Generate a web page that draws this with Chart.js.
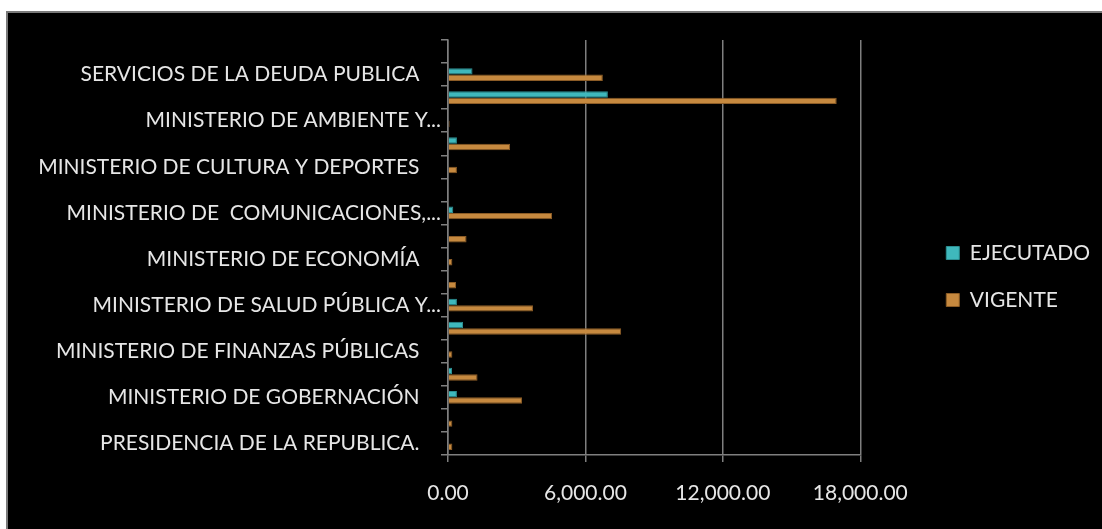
<!DOCTYPE html>
<html>
<head>
<meta charset="utf-8">
<script src="https://cdn.jsdelivr.net/npm/chart.js@4.4.1/dist/chart.umd.min.js"></script>
<style>
    html, body { margin: 0; padding: 0; background: #fff; overflow: hidden; }
    #frame { position: absolute; left: 6px; top: 11px; width: 1100px; height: 520px; background: #000; border: 2px solid #7a7a7a; overflow: hidden; }
    #wrap { position: absolute; left: 0; top: 0; width: 1094px; height: 516px; }
</style>
</head>
<body>
<div id="frame"><div id="wrap"><canvas id="budgetChart"></canvas></div></div>
<script>
// categorias, de abajo hacia arriba (como en Excel)
const categorias = [
    "PRESIDENCIA DE LA REPUBLICA.",
    "MINISTERIO DE RELACIONES EXTERIORES",
    "MINISTERIO DE GOBERNACIÓN",
    "MINISTERIO DE LA DEFENSA NACIONAL",
    "MINISTERIO DE FINANZAS PÚBLICAS",
    "MINISTERIO DE EDUCACIÓN",
    "MINISTERIO DE SALUD PÚBLICA Y...",
    "MINISTERIO DE TRABAJO Y PREVISIÓN SOCIAL",
    "MINISTERIO DE ECONOMÍA",
    "MINISTERIO DE AGRICULTURA, GANADERÍA Y ALIMENTACIÓN",
    "MINISTERIO DE  COMUNICACIONES,...",
    "MINISTERIO DE ENERGÍA Y MINAS",
    "MINISTERIO DE CULTURA Y DEPORTES",
    "SECRETARÍAS Y OTRAS DEPENDENCIAS DEL EJECUTIVO",
    "MINISTERIO DE AMBIENTE Y...",
    "OBLIGACIONES DEL ESTADO A CARGO DEL TESORO",
    "SERVICIOS DE LA DEUDA PUBLICA",
    "MINISTERIO DE DESARROLLO SOCIAL"
];

const ejecutado = [0, 0, 390, 175, 0, 655, 390, 0, 0, 0, 230, 0, 0, 390, 0, 6980, 1070, 0];
const vigente = [190, 190, 3230, 1290, 190, 7560, 3710, 350, 190, 810, 4540, 0, 390, 2710, 70, 16970, 6760, 0];

const xTicks = [0, 6000, 12000, 18000];

const fuente = "Lato, 'Open Sans', sans-serif";
const colorTexto = "#e6e6e6";
const colorGris = "#7f7f7f";

// Formato de numeros tipo 6,000.00
function formatoNumero(v) {
    return v.toLocaleString('en-US', { minimumFractionDigits: 2, maximumFractionDigits: 2 });
}

const ctx = document.getElementById('budgetChart').getContext('2d');
const budgetChart = new Chart(ctx, {
    type: 'bar',
    data: {
        labels: categorias,
        datasets: [{
            label: 'EJECUTADO',
            data: ejecutado,
            backgroundColor: '#3fb8bc',
            borderColor: '#2c8f92',
            borderWidth: 1,
            categoryPercentage: 0.56,
            barPercentage: 1.0
        }, {
            label: 'VIGENTE',
            data: vigente,
            backgroundColor: '#c6893f',
            borderColor: '#8c5c26',
            borderWidth: 1,
            categoryPercentage: 0.56,
            barPercentage: 1.0
        }]
    },
    options: {
        indexAxis: 'y',
        responsive: true,
        maintainAspectRatio: false,
        animation: false,
        layout: {
            padding: { top: 27, left: 0, right: 2, bottom: 16 }
        },
        scales: {
            x: {
                min: 0,
                max: 18000,
                afterBuildTicks: axis => {
                    axis.ticks = xTicks.map(v => ({ value: v }));
                },
                afterFit: axis => { axis.height = 58; },
                grid: {
                    color: colorGris,
                    lineWidth: 1.5,
                    tickLength: 7
                },
                border: { color: colorGris, width: 1.5 },
                ticks: {
                    color: colorTexto,
                    padding: 19,
                    font: { family: fuente, size: 21 },
                    callback: v => formatoNumero(v)
                }
            },
            y: {
                reverse: true,
                afterFit: axis => { axis.width = 440; },
                grid: {
                    drawOnChartArea: false,
                    color: colorGris,
                    lineWidth: 1.5,
                    tickLength: 7
                },
                border: { color: colorGris, width: 1.5 },
                ticks: {
                    autoSkip: false,
                    color: colorTexto,
                    padding: 0,
                    font: { family: fuente, size: 21 },
                    callback: function (val, i) {
                        if (i % 2 !== 0) return '';
                        const txt = this.getLabelForValue(val);
                        return txt.endsWith('...') ? txt : txt + '    ';
                    }
                }
            },
            // espacio vacio entre el grafico y la leyenda
            espacio: {
                type: 'linear',
                position: 'right',
                display: true,
                grid: { display: false },
                border: { display: false },
                ticks: { display: false },
                afterFit: axis => { axis.width = 60; }
            }
        },
        plugins: {
            legend: {
                position: 'right',
                labels: {
                    color: colorTexto,
                    boxWidth: 13,
                    boxHeight: 13,
                    padding: 26,
                    font: { family: fuente, size: 21 }
                }
            },
            tooltip: { enabled: false }
        }
    }
});
</script>
</body>
</html>
